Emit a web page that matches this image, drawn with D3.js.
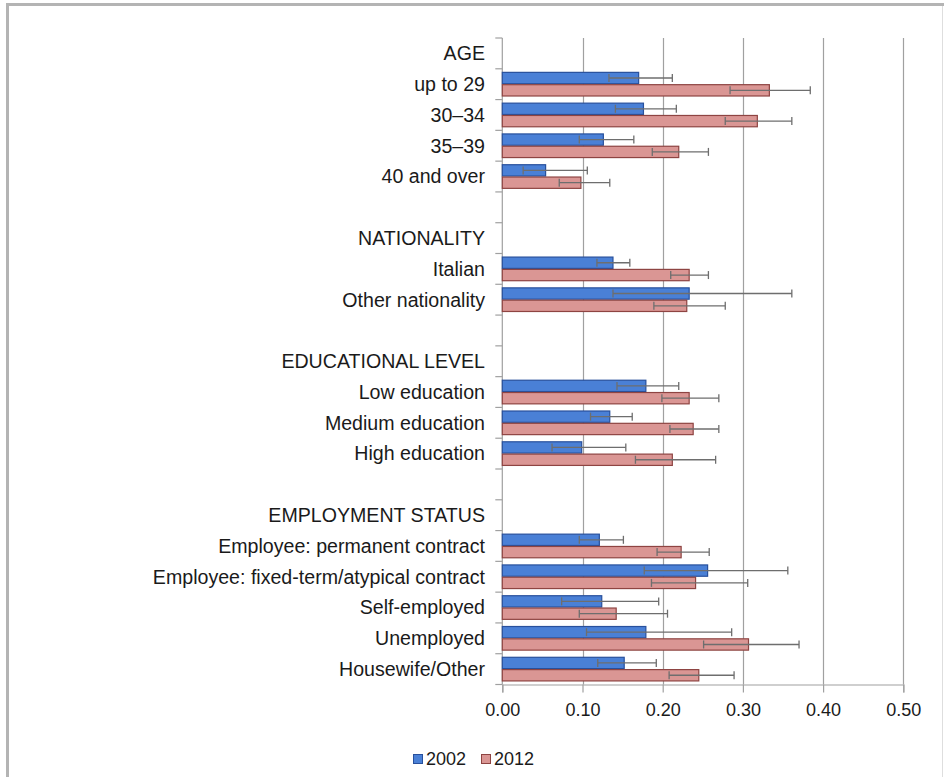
<!DOCTYPE html>
<html><head><meta charset="utf-8">
<script src="https://cdn.jsdelivr.net/npm/d3@7"></script>
<style>
html,body{margin:0;padding:0;background:#fff;}
svg{display:block;font-family:"Liberation Sans",Arial,sans-serif;}
</style></head>
<body>
<svg id="chart" width="944" height="777"></svg>
<script>
const categories = ["AGE","up to 29","30–34","35–39","40 and over","",
  "NATIONALITY","Italian","Other nationality","",
  "EDUCATIONAL LEVEL","Low education","Medium education","High education","",
  "EMPLOYMENT STATUS","Employee: permanent contract","Employee: fixed-term/atypical contract","Self-employed","Unemployed","Housewife/Other"];
const series = ["2002","2012"];
const values2002 = [null,0.170,0.176,0.126,0.054,null,null,0.138,0.233,null,null,0.179,0.134,0.099,null,null,0.121,0.256,0.124,0.179,0.152];
const low2002    = [null,0.133,0.141,0.096,0.026,null,null,0.118,0.138,null,null,0.143,0.110,0.062,null,null,0.096,0.177,0.074,0.105,0.119];
const high2002   = [null,0.212,0.217,0.164,0.106,null,null,0.159,0.361,null,null,0.220,0.162,0.154,null,null,0.151,0.356,0.195,0.286,0.192];
const values2012 = [null,0.333,0.318,0.220,0.098,null,null,0.233,0.230,null,null,0.233,0.238,0.212,null,null,0.223,0.241,0.142,0.307,0.245];
const low2012    = [null,0.284,0.278,0.187,0.071,null,null,0.210,0.189,null,null,0.199,0.209,0.166,null,null,0.193,0.186,0.096,0.251,0.208];
const high2012   = [null,0.384,0.361,0.257,0.134,null,null,0.257,0.278,null,null,0.270,0.270,0.266,null,null,0.258,0.306,0.206,0.370,0.289];
const xTicks = [0,0.1,0.2,0.3,0.4,0.5];

const fills = ["#4a80d6","#da9694"];
const strokes = ["#28509c","#8e4442"];
const valuesBy = [values2002, values2012];
const lowBy = [low2002, low2012];
const highBy = [high2002, high2012];

const svg = d3.select("#chart");
// frame
svg.append("line").attr("x1",7.5).attr("x2",7.5).attr("y1",4).attr("y2",777).attr("stroke","#b4b4b4").attr("stroke-width",3);
svg.append("line").attr("x1",6).attr("x2",944).attr("y1",4.5).attr("y2",4.5).attr("stroke","#b4b4b4").attr("stroke-width",3);
svg.append("line").attr("x1",942.5).attr("x2",942.5).attr("y1",6).attr("y2",777).attr("stroke","#dedede").attr("stroke-width",1);

const x = d3.scaleLinear().domain([0,0.5]).range([502.3,903.3]);
const idx = d3.range(categories.length);
const y = d3.scaleBand().domain(idx).range([38,684.5]).paddingInner(0.2).paddingOuter(0.1);
const ys = d3.scaleBand().domain([0,1]).range([0,y.bandwidth()]);
const step = y.step();
const yTop = y.range()[0], yBottom = y.range()[1];

// gridlines
svg.append("g").selectAll("line").data(xTicks.slice(1)).join("line")
  .attr("x1",d=>Math.round(x(d))+0.5).attr("x2",d=>Math.round(x(d))+0.5)
  .attr("y1",yTop).attr("y2",yBottom).attr("stroke","#a0a0a0").attr("stroke-width",1.2);

// x axis
const xAxis = d3.axisBottom(x).tickValues(xTicks).tickFormat(d3.format(".2f")).tickSize(8).tickPadding(11);
const gx = svg.append("g").attr("transform",`translate(0,${yBottom})`).call(xAxis);
gx.select(".domain").attr("stroke","#a0a0a0").attr("stroke-width",1.2);
gx.selectAll(".tick line").attr("stroke","#a0a0a0").attr("stroke-width",1.2);
gx.selectAll("text").attr("font-size",18).attr("fill","#1a1a1a").attr("font-family","'Liberation Sans',Arial,sans-serif");

// y axis line and ticks at band boundaries
svg.append("line").attr("x1",x(0)).attr("x2",x(0)).attr("y1",yTop).attr("y2",yBottom).attr("stroke","#a0a0a0").attr("stroke-width",1.2);
svg.append("g").selectAll("line").data(d3.range(categories.length+1)).join("line")
  .attr("x1",x(0)-7).attr("x2",x(0))
  .attr("y1",d=>yTop+d*step).attr("y2",d=>yTop+d*step)
  .attr("stroke","#a0a0a0").attr("stroke-width",1.2);

// category labels
svg.append("g").selectAll("text").data(idx).join("text")
  .attr("x",485).attr("y",d=>y(d)+y.bandwidth()/2)
  .attr("dy","0.35em").attr("text-anchor","end")
  .attr("font-size",19.6).attr("fill","#1a1a1a")
  .text(d=>categories[d]);

// bars
series.forEach((s,si)=>{
  const data = idx.filter(i=>valuesBy[si][i]!=null);
  const g = svg.append("g");
  g.selectAll("rect").data(data).join("rect")
    .attr("x",x(0)).attr("y",i=>y(i)+ys(si)+0.5)
    .attr("width",i=>x(valuesBy[si][i])-x(0)).attr("height",ys.bandwidth()-1)
    .attr("fill",fills[si]).attr("stroke",strokes[si]).attr("stroke-width",1.2);
});
// error bars
series.forEach((s,si)=>{
  const data = idx.filter(i=>valuesBy[si][i]!=null);
  const g = svg.append("g").attr("stroke","#6e6e6e").attr("stroke-width",1.3);
  const cy = i=>y(i)+ys(si)+ys.bandwidth()/2;
  g.selectAll("line.m").data(data).join("line").attr("class","m")
    .attr("x1",i=>x(lowBy[si][i])).attr("x2",i=>x(highBy[si][i]))
    .attr("y1",cy).attr("y2",cy);
  g.selectAll("line.l").data(data).join("line").attr("class","l")
    .attr("x1",i=>x(lowBy[si][i])).attr("x2",i=>x(lowBy[si][i]))
    .attr("y1",i=>cy(i)-4).attr("y2",i=>cy(i)+4);
  g.selectAll("line.h").data(data).join("line").attr("class","h")
    .attr("x1",i=>x(highBy[si][i])).attr("x2",i=>x(highBy[si][i]))
    .attr("y1",i=>cy(i)-4).attr("y2",i=>cy(i)+4);
});

// legend
const legX = [413, 481];
const lg = svg.append("g");
series.forEach((s,si)=>{
  lg.append("rect").attr("x",legX[si]+0.5).attr("y",754.5).attr("width",9).attr("height",9)
    .attr("fill",fills[si]).attr("stroke",strokes[si]).attr("stroke-width",1);
  lg.append("text").attr("x",legX[si]+13).attr("y",765).attr("font-size",18).attr("fill","#1a1a1a").text(s);
});
</script>
</body></html>
